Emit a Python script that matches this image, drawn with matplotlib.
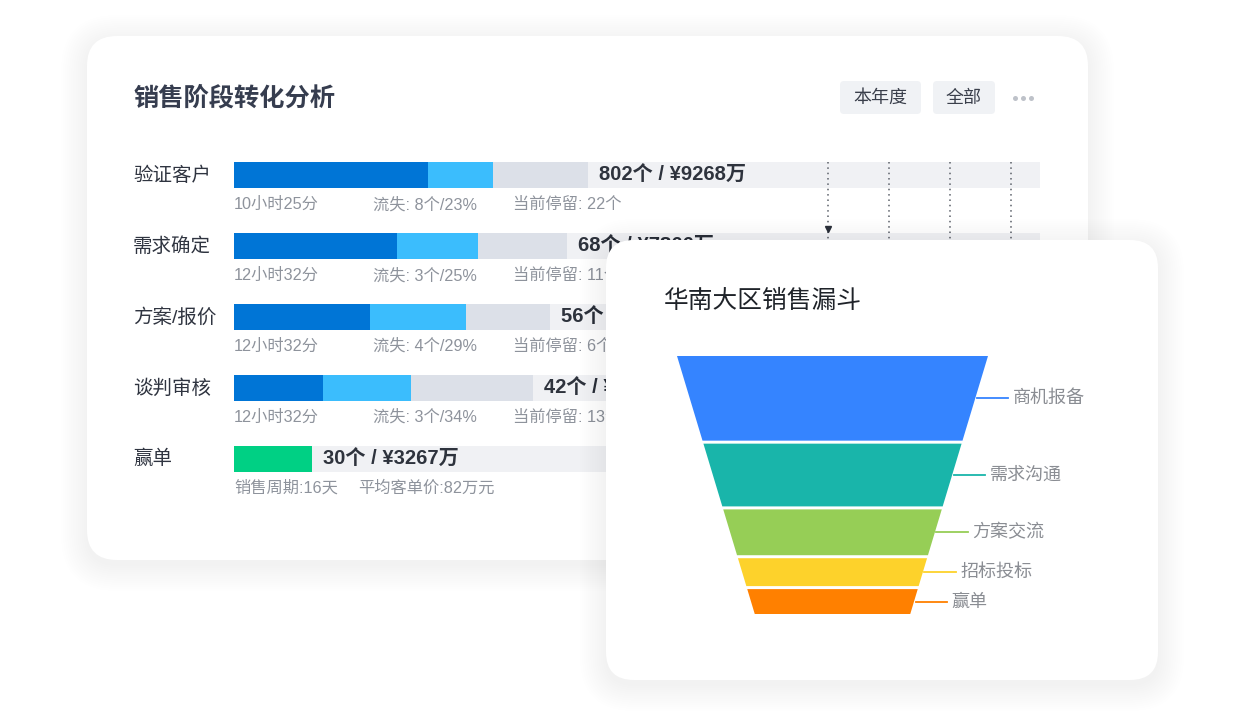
import matplotlib
matplotlib.use('Agg')
import matplotlib.pyplot as plt
from matplotlib.patches import FancyBboxPatch, Polygon
from matplotlib.transforms import blended_transform_factory
import numpy as np

plt.rcParams['font.family'] = ['Liberation Sans', 'Noto Sans CJK SC', 'DejaVu Sans']
CJK = ['Noto Sans CJK SC', 'DejaVu Sans']

# ---------------- data ----------------
stages = ['验证客户', '需求确定', '方案/报价', '谈判审核', '赢单']
converted = [194, 163, 136, 89, 78]
lost = [65, 81, 96, 88, 0]
staying = [95, 89, 84, 122, 0]
track_total = 806
value_labels = ['802个 / ¥9268万', '68个 / ¥7866万', '56个 / ¥6520万',
                '42个 / ¥4870万', '30个 / ¥3267万']
durations = ['10小时25分', '12小时32分', '12小时32分', '12小时32分']
loss_labels = ['流失: 8个/23%', '流失: 3个/25%', '流失: 4个/29%', '流失: 3个/34%']
stay_labels = ['当前停留: 22个', '当前停留: 11个', '当前停留: 6个', '当前停留: 13个']
win_notes = ['销售周期:16天', '平均客单价:82万元']
milestones = [594, 655, 716, 777]
filters = ['本年度', '全部']

funnel_stages = ['商机报备', '需求沟通', '方案交流', '招标投标', '赢单']
funnel_values = [85, 63, 46, 28, 25]
funnel_colors = ['#3584FF', '#19B5AA', '#96CE56', '#FDD22B', '#FF8000']

# ---------------- helpers ----------------
def soft_shadow(ax, x, y, w, h, r, spread=26, layers=13, dy=5, alpha=0.0036, z=0):
    for g in np.linspace(spread, 1, layers):
        ax.add_patch(FancyBboxPatch((x - g, y - g + dy), w + 2 * g, h + 2 * g,
                                    boxstyle=f"round,pad=0,rounding_size={r + g}",
                                    fc='black', ec='none', alpha=alpha, zorder=z))

def card(ax, x, y, w, h, r, z=1):
    soft_shadow(ax, x, y, w, h, r, z=z)
    ax.add_patch(FancyBboxPatch((x, y), w, h, boxstyle=f"round,pad=0,rounding_size={r}",
                                fc='white', ec='none', zorder=z + 0.5))

fig = plt.figure(figsize=(12.48, 7.2), dpi=100)
fig.patch.set_facecolor('white')

# background layer (pixel coordinates)
bg = fig.add_axes([0, 0, 1, 1], zorder=0)
bg.set_xlim(0, 1248)
bg.set_ylim(720, 0)
bg.axis('off')

card(bg, 87, 36, 1001, 524, 30)
bg.text(133, 98, '销售阶段转化分析', fontsize=18.2, fontweight='bold', color='#363D4F',
        va='center', ha='left', zorder=3, family=CJK)
btn_x = [(840, 81), (933, 62)]
for (bx, bw), lab in zip(btn_x, filters):
    bg.add_patch(FancyBboxPatch((bx, 81), bw, 33, boxstyle="round,pad=0,rounding_size=4",
                                fc='#F0F2F5', ec='none', zorder=3))
    bg.text(bx + bw / 2, 98, lab, fontsize=13, color='#3A3F4B', ha='center',
            va='center', zorder=4, family=CJK)
for dx in (1015, 1023, 1031):
    bg.plot(dx, 98, 'o', ms=3.6, color='#BEC2C9', mec='none', zorder=4)

# ---------------- bar axes ----------------
ax = fig.add_axes([234 / 1248, 1 - 494.5 / 720, 806 / 1248, 354.5 / 720], zorder=1)
ax.set_xlim(0, track_total)
ax.set_ylim(4.5, -0.5)
ax.axis('off')
ax.patch.set_alpha(0)

ypos = np.arange(len(stages))
bh = 0.367
conv_colors = ['#0075D6'] * 4 + ['#00D084']
ax.barh(ypos, [track_total] * len(stages), height=bh, color='#F0F1F4', zorder=1)
left = np.zeros(len(stages))
ax.barh(ypos, converted, left=left, height=bh, color=conv_colors, zorder=2)
left += converted
ax.barh(ypos, lost, left=left, height=bh, color='#3BBDFD', zorder=2)
left += lost
ax.barh(ypos, staying, left=left, height=bh, color='#DCE0E8', zorder=2)
left += staying

trans = blended_transform_factory(bg.transData, ax.transData)
for i, s in enumerate(stages):
    ax.text(133, i, s, transform=trans, fontsize=14, color='#2F3440',
            ha='left', va='center')
    ax.text(left[i] + 11, i, value_labels[i], fontsize=14.5, fontweight='semibold',
            color='#2E333D', ha='left', va='center', zorder=3)

sub_y = 0.41
for i in range(4):
    for xx, t in zip((0, 139, 279), (durations[i], loss_labels[i], stay_labels[i])):
        ax.text(xx, i + sub_y, t, fontsize=11.7, color='#8E939C', ha='left', va='center')
for xx, t in zip((0, 124), win_notes):
    ax.text(xx, 4 + sub_y, t, fontsize=11.7, color='#8E939C', ha='left', va='center')

ax.vlines(milestones, -0.183, 0.95, linestyles=(0, (1, 2.5)), colors='#5A5F68',
          lw=1.1, zorder=3)
ax.plot(milestones[0], 0.76, marker='v', ms=5, color='#2E333D', zorder=4)

# ---------------- funnel card ----------------
cax = fig.add_axes([0, 0, 1, 1], zorder=2)
cax.set_xlim(0, 1248)
cax.set_ylim(720, 0)
cax.axis('off')
cax.patch.set_alpha(0)
card(cax, 606, 240, 552, 440, 28)
cax.text(664, 301, '华南大区销售漏斗', fontsize=17.8, color='#1F2329', ha='left',
         va='center', zorder=3, family=CJK)

fax = fig.add_axes([677 / 1248, 1 - 614 / 720, 311 / 1248, 258 / 720], zorder=3)
fax.axis('off')
fax.patch.set_alpha(0)
vals = np.array(funnel_values, dtype=float)
gap = vals.sum() * 3 / 246
total = vals.sum() + gap * (len(vals) - 1)
fax.set_xlim(-0.5, 0.5)
fax.set_ylim(total, 0)
bottom_ratio = 0.5

def width_at(y):
    return 1 - (1 - bottom_ratio) * y / total

y0 = 0.0
for name, v, c in zip(funnel_stages, vals, funnel_colors):
    y1 = y0 + v
    w0, w1 = width_at(y0), width_at(y1)
    fax.add_patch(Polygon([(-w0 / 2, y0), (w0 / 2, y0), (w1 / 2, y1), (-w1 / 2, y1)],
                          closed=True, fc=c, ec='none'))
    ym = (y0 + y1) / 2
    xe = width_at(ym) / 2
    fax.plot([xe + 0.005, xe + 0.105], [ym, ym], color=c, lw=1.3, clip_on=False)
    fax.text(xe + 0.12, ym, name, fontsize=13, color='#8A8D93', ha='left',
             va='center', clip_on=False, family=CJK)
    y0 = y1 + gap

fig.savefig('out.png', dpi=100, facecolor='white')
